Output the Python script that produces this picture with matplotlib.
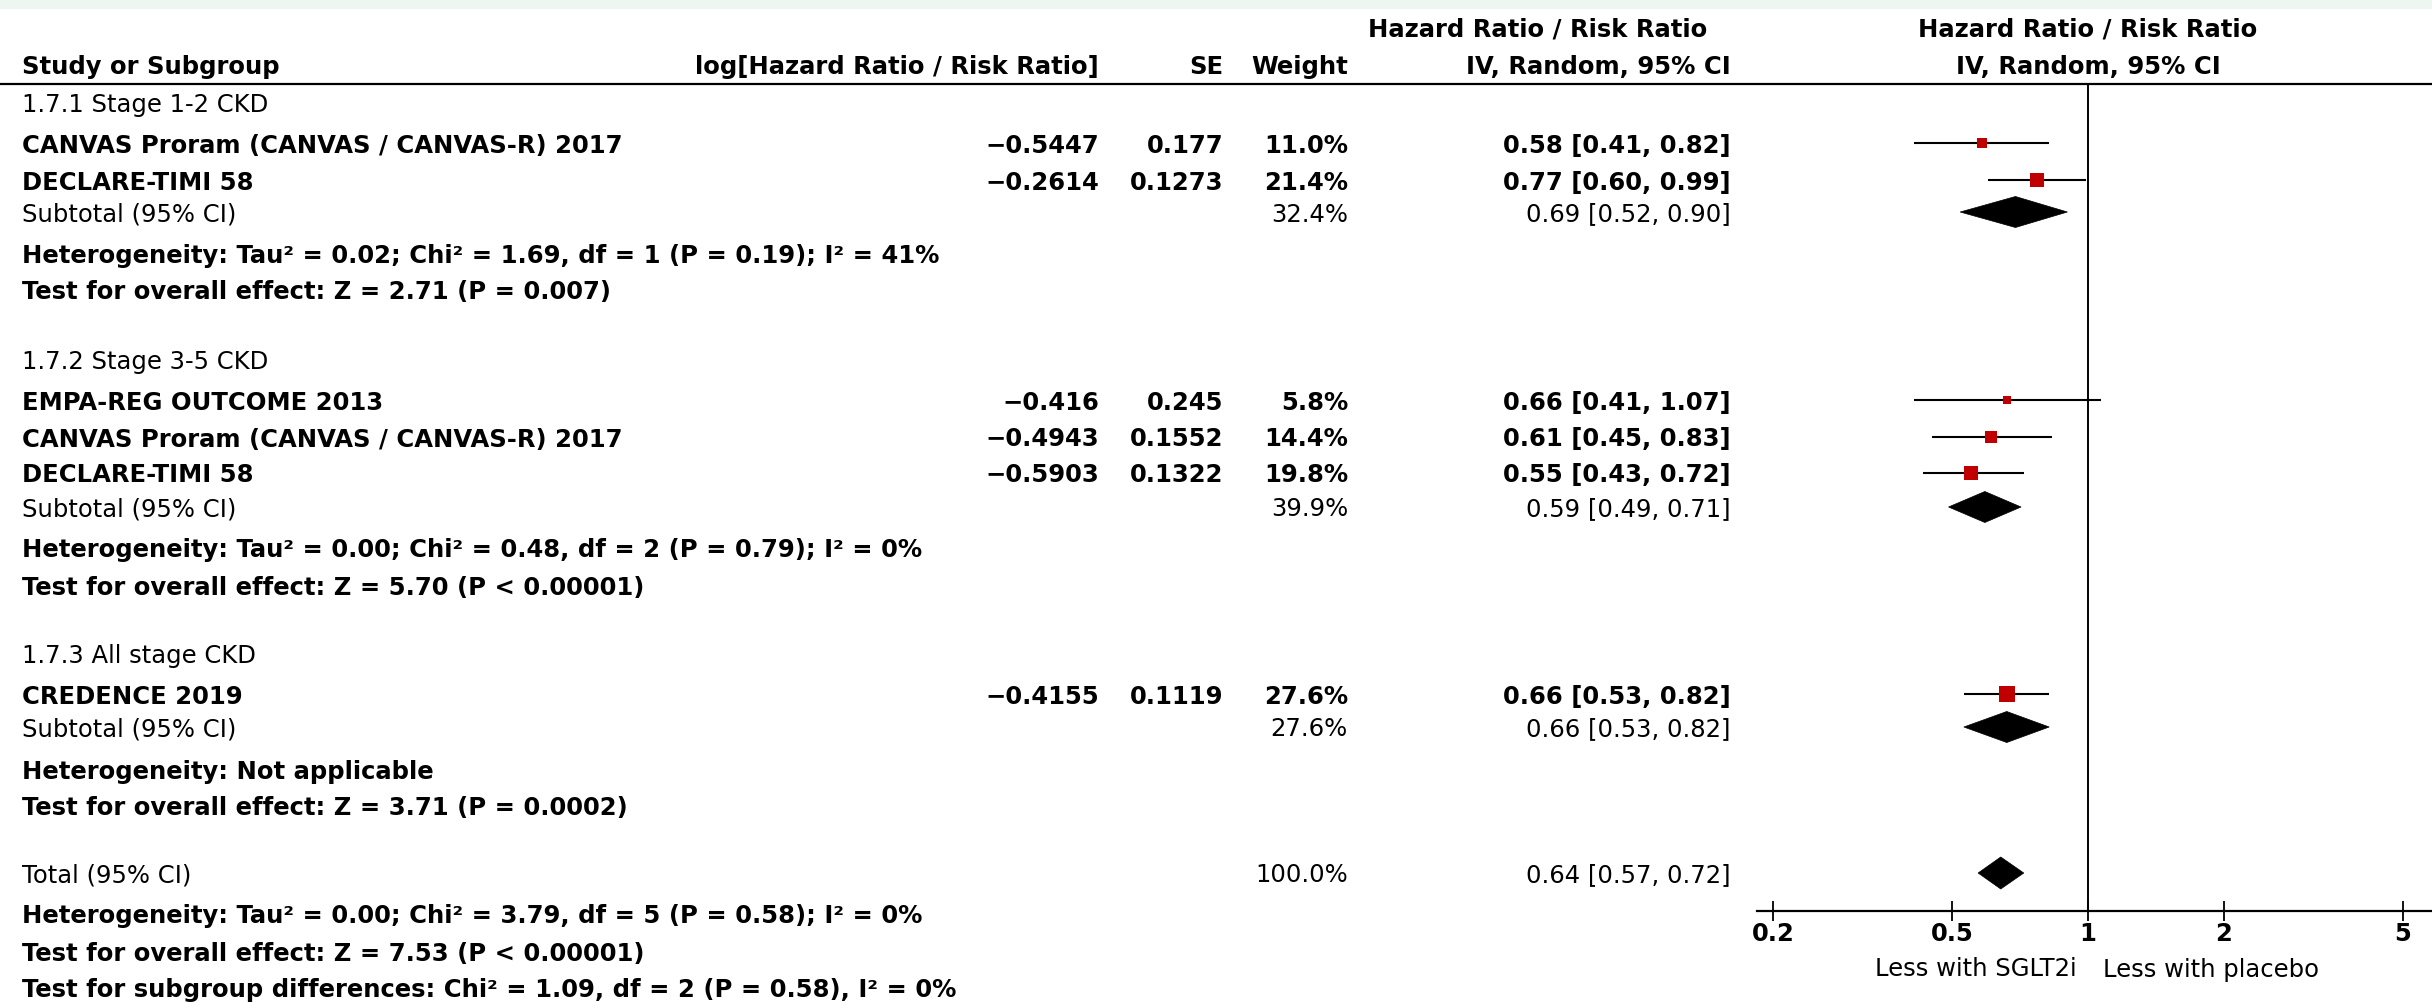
import numpy as np
import matplotlib.pyplot as plt
from matplotlib.patches import Polygon, Rectangle
from matplotlib.ticker import NullLocator

plt.rcParams['font.family'] = ['DejaVu Sans']

# ---- data ----
groups = ['1.7.1 Stage 1-2 CKD', '1.7.2 Stage 3-5 CKD', '1.7.3 All stage CKD']
studies = [['CANVAS Proram (CANVAS / CANVAS-R) 2017', 'DECLARE-TIMI 58'],
           ['EMPA-REG OUTCOME 2013', 'CANVAS Proram (CANVAS / CANVAS-R) 2017', 'DECLARE-TIMI 58'],
           ['CREDENCE 2019']]
log_hr = [[-0.5447, -0.2614], [-0.416, -0.4943, -0.5903], [-0.4155]]
se = [[0.177, 0.1273], [0.245, 0.1552, 0.1322], [0.1119]]
weight = [[11.0, 21.4], [5.8, 14.4, 19.8], [27.6]]
hr = [[0.58, 0.77], [0.66, 0.61, 0.55], [0.66]]
ci_lo = [[0.41, 0.60], [0.41, 0.45, 0.43], [0.53]]
ci_hi = [[0.82, 0.99], [1.07, 0.83, 0.72], [0.82]]

sub_weight = [32.4, 39.9, 27.6]
sub_hr = [0.69, 0.59, 0.66]
sub_lo = [0.52, 0.49, 0.53]
sub_hi = [0.90, 0.71, 0.82]
sub_het = ['Heterogeneity: Tau\u00b2 = 0.02; Chi\u00b2 = 1.69, df = 1 (P = 0.19); I\u00b2 = 41%',
           'Heterogeneity: Tau\u00b2 = 0.00; Chi\u00b2 = 0.48, df = 2 (P = 0.79); I\u00b2 = 0%',
           'Heterogeneity: Not applicable']
sub_test = ['Test for overall effect: Z = 2.71 (P = 0.007)',
            'Test for overall effect: Z = 5.70 (P < 0.00001)',
            'Test for overall effect: Z = 3.71 (P = 0.0002)']

total_weight = 100.0
total_hr, total_lo, total_hi = 0.64, 0.57, 0.72
total_lines = ['Heterogeneity: Tau\u00b2 = 0.00; Chi\u00b2 = 3.79, df = 5 (P = 0.58); I\u00b2 = 0%',
               'Test for overall effect: Z = 7.53 (P < 0.00001)',
               'Test for subgroup differences: Chi\u00b2 = 1.09, df = 2 (P = 0.58), I\u00b2 = 0%']

ticks = [0.2, 0.5, 1, 2, 5]
tick_labels = ['0.2', '0.5', '1', '2', '5']
favours = ['Less with SGLT2i', 'Less with placebo']

# ---- layout (pixels) ----
W, H = 2432, 1002
head_y = [102, 360, 653]
study_y = [[143, 180], [400, 437, 473], [694]]
sub_y = [212, 507, 727]
het_y = [253, 548, 770]
test_y = [290, 585, 805]
total_y = 873
total_line_y = [913, 952, 988]

x_name = 22
x_log = 1099
x_se = 1223
x_w = 1348
x_ci = 1731
fs = 17.5

fig = plt.figure(figsize=(W / 100, H / 100), dpi=100)
ax = fig.add_axes([0, 0, 1, 1])
ax.set_xlim(0, W)
ax.set_ylim(H, 0)
ax.axis('off')

ax.add_patch(Rectangle((0, 0), W, 9, color='#edf6f1', lw=0))

# headers
ax.text(x_name, 64, 'Study or Subgroup', fontsize=fs, fontweight='bold', va='center_baseline')
ax.text(x_log, 64, 'log[Hazard Ratio / Risk Ratio]', fontsize=fs, fontweight='bold', ha='right', va='center_baseline')
ax.text(x_se, 64, 'SE', fontsize=fs, fontweight='bold', ha='right', va='center_baseline')
ax.text(x_w, 64, 'Weight', fontsize=fs, fontweight='bold', ha='right', va='center_baseline')
ax.text(1538, 27, 'Hazard Ratio / Risk Ratio', fontsize=fs, fontweight='bold', ha='center', va='center_baseline')
ax.text(x_ci, 64, 'IV, Random, 95% CI', fontsize=fs, fontweight='bold', ha='right', va='center_baseline')
ax.text(2088, 27, 'Hazard Ratio / Risk Ratio', fontsize=fs, fontweight='bold', ha='center', va='center_baseline')
ax.text(2088, 64, 'IV, Random, 95% CI', fontsize=fs, fontweight='bold', ha='center', va='center_baseline')
ax.plot([0, W], [84, 84], color='black', lw=1.6)


def num(v):
    return str(v).replace('-', '\u2212')


def ci_text(m, l, h):
    return f'{m:.2f} [{l:.2f}, {h:.2f}]'


# forest axes
fx0, fx1, fy0, fy1 = 1757, 2432, 84, 911
k = 195.5
fx = fig.add_axes([fx0 / W, 1 - fy1 / H, (fx1 - fx0) / W, (fy1 - fy0) / H])
fx.set_xscale('log')
fx.set_xlim(np.exp((fx0 - 2088) / k), np.exp((fx1 - 2088) / k))
fx.set_ylim(fy1, fy0)
fx.patch.set_alpha(0)
for s in ['top', 'left', 'right']:
    fx.spines[s].set_visible(False)
fx.spines['bottom'].set_linewidth(1.6)
fx.set_yticks([])
fx.set_xticks(ticks)
fx.set_xticklabels(tick_labels)
fx.xaxis.set_minor_locator(NullLocator())
fx.tick_params(axis='x', direction='inout', length=14, width=1.3, labelsize=fs, pad=1)
for t in fx.get_xticklabels():
    t.set_fontweight('bold')
fx.axvline(1, color='black', lw=1.4)


def diamond(y, m, l, h, half=15.5):
    fx.add_patch(Polygon([(l, y), (m, y - half), (h, y), (m, y + half)],
                         closed=True, facecolor='black', edgecolor='black', lw=0.5))


for g in range(len(groups)):
    ax.text(x_name, head_y[g], groups[g], fontsize=fs, va='center_baseline')
    for i, name in enumerate(studies[g]):
        y = study_y[g][i]
        ax.text(x_name, y, name, fontsize=fs, fontweight='bold', va='center_baseline')
        ax.text(x_log, y, num(log_hr[g][i]), fontsize=fs, fontweight='bold', ha='right', va='center_baseline')
        ax.text(x_se, y, num(se[g][i]), fontsize=fs, fontweight='bold', ha='right', va='center_baseline')
        ax.text(x_w, y, f'{weight[g][i]:.1f}%', fontsize=fs, fontweight='bold', ha='right', va='center_baseline')
        ax.text(x_ci, y, ci_text(hr[g][i], ci_lo[g][i], ci_hi[g][i]), fontsize=fs, fontweight='bold',
                ha='right', va='center_baseline')
        fx.hlines(y, ci_lo[g][i], ci_hi[g][i], color='black', lw=1.5)
        side = 3.0 * np.sqrt(weight[g][i])
        fx.plot(hr[g][i], y, marker='s', ms=side * 0.72, color='#c00000', mec='#c00000', mew=0)
    ys = sub_y[g]
    ax.text(x_name, ys, 'Subtotal (95% CI)', fontsize=fs, va='center_baseline')
    ax.text(x_w, ys, f'{sub_weight[g]:.1f}%', fontsize=fs, ha='right', va='center_baseline')
    ax.text(x_ci, ys, ci_text(sub_hr[g], sub_lo[g], sub_hi[g]), fontsize=fs, ha='right', va='center_baseline')
    diamond(ys, sub_hr[g], sub_lo[g], sub_hi[g])
    ax.text(x_name, het_y[g], sub_het[g], fontsize=fs, fontweight='bold', va='center_baseline')
    ax.text(x_name, test_y[g], sub_test[g], fontsize=fs, fontweight='bold', va='center_baseline')

ax.text(x_name, total_y, 'Total (95% CI)', fontsize=fs, va='center_baseline')
ax.text(x_w, total_y, f'{total_weight:.1f}%', fontsize=fs, ha='right', va='center_baseline')
ax.text(x_ci, total_y, ci_text(total_hr, total_lo, total_hi), fontsize=fs, ha='right', va='center_baseline')
diamond(total_y, total_hr, total_lo, total_hi, half=16)
for line, y in zip(total_lines, total_line_y):
    ax.text(x_name, y, line, fontsize=fs, fontweight='bold', va='center_baseline')

ax.text(2077, 967, favours[0], fontsize=fs, ha='right', va='center_baseline')
ax.text(2103, 967, favours[1], fontsize=fs, ha='left', va='center_baseline')

fig.savefig('out.png', dpi=100)
